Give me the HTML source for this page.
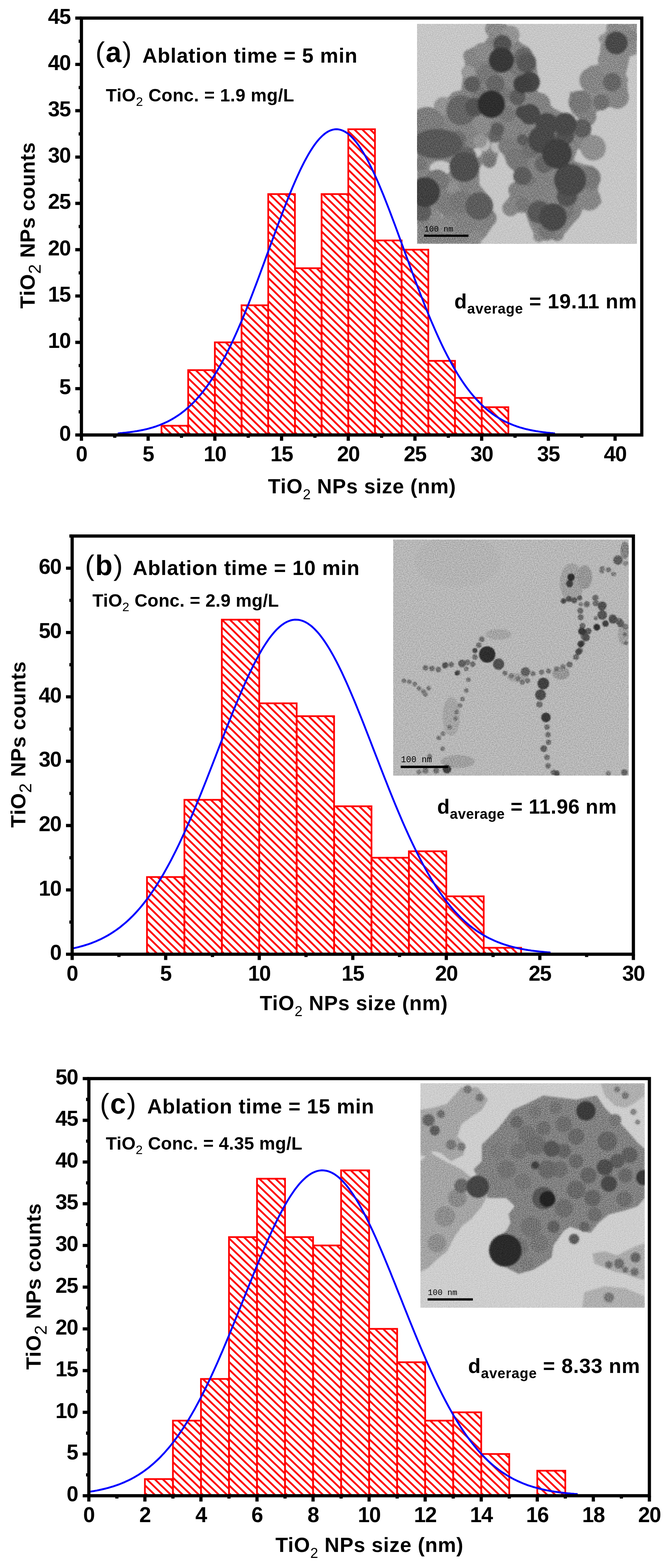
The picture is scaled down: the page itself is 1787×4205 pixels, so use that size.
<!DOCTYPE html>
<html><head><meta charset="utf-8"><title>TiO2 NPs size distribution</title>
<style>
html,body{margin:0;padding:0;background:#fff;}
body{width:1787px;height:4205px;overflow:hidden;}
svg{display:block;}
text{font-family:"Liberation Sans", Arial, sans-serif;font-weight:bold;fill:#000;}
.t{font-size:57px;letter-spacing:-1.6px;}
</style></head><body>
<svg width="1787" height="4205" viewBox="0 0 1787 4205">
<defs>
<pattern id="hatcha" patternUnits="userSpaceOnUse" width="14.784" height="40" patternTransform="translate(0,-4) rotate(-45.58)"><rect x="0" y="0" width="4.900" height="40" fill="#ff0000"/></pattern>
<pattern id="hatchb" patternUnits="userSpaceOnUse" width="14.784" height="40" patternTransform="translate(0,-4) rotate(-45.58)"><rect x="0" y="0" width="4.900" height="40" fill="#ff0000"/></pattern>
<pattern id="hatchc" patternUnits="userSpaceOnUse" width="14.933" height="40" patternTransform="translate(0,-4) rotate(-46.17)"><rect x="0" y="0" width="4.848" height="40" fill="#ff0000"/></pattern>
</defs>
<rect width="1787" height="4205" fill="#ffffff"/>
<g transform="translate(433.3,1166.5)"><rect x="0" y="-24.8" width="71.6" height="24.8" fill="url(#hatcha)" stroke="#ff0000" stroke-width="4.6"/></g>
<g transform="translate(504.9,1166.5)"><rect x="0" y="-173.9" width="71.6" height="173.9" fill="url(#hatcha)" stroke="#ff0000" stroke-width="4.6"/></g>
<g transform="translate(576.5,1166.5)"><rect x="0" y="-248.4" width="71.6" height="248.4" fill="url(#hatcha)" stroke="#ff0000" stroke-width="4.6"/></g>
<g transform="translate(648.1,1166.5)"><rect x="0" y="-347.8" width="71.6" height="347.8" fill="url(#hatcha)" stroke="#ff0000" stroke-width="4.6"/></g>
<g transform="translate(719.7,1166.5)"><rect x="0" y="-646.0" width="71.6" height="646.0" fill="url(#hatcha)" stroke="#ff0000" stroke-width="4.6"/></g>
<g transform="translate(791.3,1166.5)"><rect x="0" y="-447.2" width="71.6" height="447.2" fill="url(#hatcha)" stroke="#ff0000" stroke-width="4.6"/></g>
<g transform="translate(862.9,1166.5)"><rect x="0" y="-646.0" width="71.6" height="646.0" fill="url(#hatcha)" stroke="#ff0000" stroke-width="4.6"/></g>
<g transform="translate(934.5,1166.5)"><rect x="0" y="-819.9" width="71.6" height="819.9" fill="url(#hatcha)" stroke="#ff0000" stroke-width="4.6"/></g>
<g transform="translate(1006.0,1166.5)"><rect x="0" y="-521.7" width="71.6" height="521.7" fill="url(#hatcha)" stroke="#ff0000" stroke-width="4.6"/></g>
<g transform="translate(1077.6,1166.5)"><rect x="0" y="-496.9" width="71.6" height="496.9" fill="url(#hatcha)" stroke="#ff0000" stroke-width="4.6"/></g>
<g transform="translate(1149.2,1166.5)"><rect x="0" y="-198.8" width="71.6" height="198.8" fill="url(#hatcha)" stroke="#ff0000" stroke-width="4.6"/></g>
<g transform="translate(1220.8,1166.5)"><rect x="0" y="-99.4" width="71.6" height="99.4" fill="url(#hatcha)" stroke="#ff0000" stroke-width="4.6"/></g>
<g transform="translate(1292.4,1166.5)"><rect x="0" y="-74.5" width="71.6" height="74.5" fill="url(#hatcha)" stroke="#ff0000" stroke-width="4.6"/></g>
<polyline points="315.9,1162.2 319.8,1161.9 323.7,1161.5 327.6,1161.2 331.5,1160.8 335.4,1160.4 339.3,1160.0 343.2,1159.5 347.2,1159.1 351.1,1158.5 355.0,1158.0 358.9,1157.4 362.8,1156.8 366.7,1156.2 370.6,1155.5 374.5,1154.8 378.5,1154.0 382.4,1153.2 386.3,1152.4 390.2,1151.5 394.1,1150.6 398.0,1149.6 401.9,1148.5 405.8,1147.4 409.7,1146.3 413.7,1145.0 417.6,1143.8 421.5,1142.4 425.4,1141.0 429.3,1139.5 433.2,1137.9 437.1,1136.3 441.0,1134.6 444.9,1132.8 448.9,1130.9 452.8,1129.0 456.7,1126.9 460.6,1124.7 464.5,1122.5 468.4,1120.1 472.3,1117.7 476.2,1115.1 480.2,1112.5 484.1,1109.7 488.0,1106.8 491.9,1103.8 495.8,1100.7 499.7,1097.4 503.6,1094.0 507.5,1090.5 511.4,1086.9 515.4,1083.1 519.3,1079.2 523.2,1075.1 527.1,1070.9 531.0,1066.5 534.9,1062.0 538.8,1057.4 542.7,1052.6 546.6,1047.6 550.6,1042.5 554.5,1037.2 558.4,1031.7 562.3,1026.1 566.2,1020.3 570.1,1014.4 574.0,1008.3 577.9,1002.0 581.9,995.5 585.8,988.9 589.7,982.1 593.6,975.2 597.5,968.0 601.4,960.7 605.3,953.3 609.2,945.6 613.1,937.8 617.1,929.8 621.0,921.7 624.9,913.4 628.8,904.9 632.7,896.3 636.6,887.5 640.5,878.6 644.4,869.6 648.3,860.4 652.3,851.0 656.2,841.5 660.1,831.9 664.0,822.2 667.9,812.3 671.8,802.4 675.7,792.3 679.6,782.1 683.5,771.9 687.5,761.5 691.4,751.1 695.3,740.6 699.2,730.0 703.1,719.4 707.0,708.8 710.9,698.1 714.8,687.4 718.8,676.6 722.7,665.9 726.6,655.2 730.5,644.5 734.4,633.8 738.3,623.1 742.2,612.5 746.1,601.9 750.0,591.4 754.0,581.0 757.9,570.7 761.8,560.4 765.7,550.3 769.6,540.3 773.5,530.5 777.4,520.8 781.3,511.2 785.2,501.8 789.2,492.6 793.1,483.6 797.0,474.8 800.9,466.2 804.8,457.8 808.7,449.7 812.6,441.8 816.5,434.1 820.5,426.7 824.4,419.6 828.3,412.8 832.2,406.3 836.1,400.1 840.0,394.1 843.9,388.5 847.8,383.3 851.7,378.3 855.7,373.7 859.6,369.4 863.5,365.5 867.4,362.0 871.3,358.8 875.2,355.9 879.1,353.5 883.0,351.4 886.9,349.7 890.9,348.4 894.8,347.4 898.7,346.8 902.6,346.6 906.5,346.8 910.4,347.4 914.3,348.4 918.2,349.7 922.1,351.4 926.1,353.5 930.0,355.9 933.9,358.8 937.8,362.0 941.7,365.5 945.6,369.4 949.5,373.7 953.4,378.3 957.4,383.3 961.3,388.5 965.2,394.1 969.1,400.1 973.0,406.3 976.9,412.8 980.8,419.6 984.7,426.7 988.6,434.1 992.6,441.8 996.5,449.7 1000.4,457.8 1004.3,466.2 1008.2,474.8 1012.1,483.6 1016.0,492.6 1019.9,501.8 1023.8,511.2 1027.8,520.8 1031.7,530.5 1035.6,540.3 1039.5,550.3 1043.4,560.4 1047.3,570.7 1051.2,581.0 1055.1,591.4 1059.1,601.9 1063.0,612.5 1066.9,623.1 1070.8,633.8 1074.7,644.5 1078.6,655.2 1082.5,665.9 1086.4,676.6 1090.3,687.4 1094.3,698.1 1098.2,708.8 1102.1,719.4 1106.0,730.0 1109.9,740.6 1113.8,751.1 1117.7,761.5 1121.6,771.9 1125.5,782.1 1129.5,792.3 1133.4,802.4 1137.3,812.3 1141.2,822.2 1145.1,831.9 1149.0,841.5 1152.9,851.0 1156.8,860.4 1160.8,869.6 1164.7,878.6 1168.6,887.5 1172.5,896.3 1176.4,904.9 1180.3,913.4 1184.2,921.7 1188.1,929.8 1192.0,937.8 1196.0,945.6 1199.9,953.3 1203.8,960.7 1207.7,968.0 1211.6,975.2 1215.5,982.1 1219.4,988.9 1223.3,995.5 1227.2,1002.0 1231.2,1008.3 1235.1,1014.4 1239.0,1020.3 1242.9,1026.1 1246.8,1031.7 1250.7,1037.2 1254.6,1042.5 1258.5,1047.6 1262.4,1052.6 1266.4,1057.4 1270.3,1062.0 1274.2,1066.5 1278.1,1070.9 1282.0,1075.1 1285.9,1079.2 1289.8,1083.1 1293.7,1086.9 1297.7,1090.5 1301.6,1094.0 1305.5,1097.4 1309.4,1100.7 1313.3,1103.8 1317.2,1106.8 1321.1,1109.7 1325.0,1112.5 1328.9,1115.1 1332.9,1117.7 1336.8,1120.1 1340.7,1122.5 1344.6,1124.7 1348.5,1126.9 1352.4,1129.0 1356.3,1130.9 1360.2,1132.8 1364.1,1134.6 1368.1,1136.3 1372.0,1137.9 1375.9,1139.5 1379.8,1141.0 1383.7,1142.4 1387.6,1143.8 1391.5,1145.0 1395.4,1146.3 1399.4,1147.4 1403.3,1148.5 1407.2,1149.6 1411.1,1150.6 1415.0,1151.5 1418.9,1152.4 1422.8,1153.2 1426.7,1154.0 1430.6,1154.8 1434.6,1155.5 1438.5,1156.2 1442.4,1156.8 1446.3,1157.4 1450.2,1158.0 1454.1,1158.5 1458.0,1159.1 1461.9,1159.5 1465.8,1160.0 1469.8,1160.4 1473.7,1160.8 1477.6,1161.2 1481.5,1161.5 1485.4,1161.9 1489.3,1162.2" fill="none" stroke="#0000ff" stroke-width="5" stroke-linejoin="round"/>
<svg x="1119" y="64" width="590" height="590" viewBox="0 0 1095 1095" preserveAspectRatio="none" overflow="hidden">
<defs><filter id="bla" x="-5%" y="-5%" width="110%" height="110%"><feGaussianBlur stdDeviation="5"/></filter></defs>
<rect width="1095" height="1095" fill="#c7c7c7"/>
<g filter="url(#bla)">
<polygon points="350,0 440,0 470,30 510,90 560,120 590,170 600,250 610,300 590,350 600,380 640,380 680,420 720,440 760,470 800,480 850,500 870,560 900,560 930,600 930,660 880,670 840,640 800,620 780,680 830,700 880,710 910,750 900,830 910,860 920,890 880,920 830,910 810,960 780,990 740,1040 700,1060 650,1080 600,1070 580,1040 560,1000 540,940 500,940 450,940 430,900 460,860 480,820 500,780 480,730 450,700 430,650 410,620 390,700 360,720 330,690 310,720 310,800 350,850 370,920 380,1000 340,1060 300,1095 0,1095 0,430 60,430 100,450 100,380 150,370 180,340 220,330 230,250 240,200 230,150 270,120 330,100 360,60" fill="rgb(132,132,132)"/>
<polygon points="760,340 830,330 820,250 860,210 920,200 910,140 920,60 960,20 960,0 1095,0 1095,150 1060,160 1040,250 1050,330 1040,400 980,410 930,420 890,440 880,500 850,500 800,470 770,440 760,400" fill="rgb(138,138,138)"/>
<ellipse cx="118" cy="717" rx="55.199999999999996" ry="34.5" fill="rgb(199,199,199)"/>
<circle cx="300" cy="640" r="23.0" fill="rgb(199,199,199)"/>
<circle cx="330" cy="600" r="34.5" fill="rgb(186,186,186)"/>
<circle cx="400" cy="610" r="32.199999999999996" fill="rgb(186,186,186)"/>
<circle cx="100" cy="960" r="28.749999999999996" fill="rgb(176,176,176)"/>
<circle cx="255" cy="240" r="34.5" fill="rgb(153,153,153)"/>
<circle cx="465" cy="55" r="46.0" fill="rgb(148,148,148)"/>
<circle cx="130" cy="410" r="46.0" fill="rgb(148,148,148)"/>
<circle cx="927" cy="75" r="23.0" fill="rgb(148,148,148)"/>
<circle cx="1077" cy="10" r="23.0" fill="rgb(148,148,148)"/>
<circle cx="315" cy="582" r="34.5" fill="rgb(148,148,148)"/>
<circle cx="190" cy="822" r="40.25" fill="rgb(144,144,144)"/>
<circle cx="877" cy="617" r="63.24999999999999" fill="rgb(144,144,144)"/>
<circle cx="385" cy="25" r="46.0" fill="rgb(139,139,139)"/>
<circle cx="325" cy="140" r="46.0" fill="rgb(139,139,139)"/>
<circle cx="325" cy="500" r="46.0" fill="rgb(139,139,139)"/>
<circle cx="1022" cy="280" r="28.749999999999996" fill="rgb(139,139,139)"/>
<circle cx="952" cy="180" r="51.74999999999999" fill="rgb(139,139,139)"/>
<circle cx="1067" cy="130" r="28.749999999999996" fill="rgb(139,139,139)"/>
<circle cx="977" cy="20" r="34.5" fill="rgb(139,139,139)"/>
<circle cx="290" cy="1067" r="34.5" fill="rgb(139,139,139)"/>
<circle cx="150" cy="1012" r="40.25" fill="rgb(139,139,139)"/>
<circle cx="85" cy="972" r="40.25" fill="rgb(139,139,139)"/>
<circle cx="607" cy="1057" r="28.749999999999996" fill="rgb(139,139,139)"/>
<circle cx="265" cy="160" r="34.5" fill="rgb(134,134,134)"/>
<circle cx="872" cy="280" r="63.24999999999999" fill="rgb(134,134,134)"/>
<circle cx="997" cy="365" r="57.49999999999999" fill="rgb(134,134,134)"/>
<circle cx="1067" cy="65" r="34.5" fill="rgb(134,134,134)"/>
<circle cx="465" cy="917" r="40.25" fill="rgb(134,134,134)"/>
<circle cx="857" cy="872" r="57.49999999999999" fill="rgb(134,134,134)"/>
<circle cx="525" cy="525" r="34.5" fill="rgb(130,130,130)"/>
<circle cx="577" cy="360" r="34.5" fill="rgb(130,130,130)"/>
<circle cx="607" cy="400" r="57.49999999999999" fill="rgb(130,130,130)"/>
<circle cx="847" cy="460" r="46.0" fill="rgb(130,130,130)"/>
<circle cx="30" cy="977" r="34.5" fill="rgb(130,130,130)"/>
<circle cx="240" cy="987" r="57.49999999999999" fill="rgb(130,130,130)"/>
<circle cx="350" cy="967" r="46.0" fill="rgb(130,130,130)"/>
<circle cx="240" cy="797" r="34.5" fill="rgb(130,130,130)"/>
<circle cx="495" cy="827" r="40.25" fill="rgb(130,130,130)"/>
<circle cx="562" cy="707" r="28.749999999999996" fill="rgb(130,130,130)"/>
<circle cx="632" cy="787" r="46.0" fill="rgb(130,130,130)"/>
<circle cx="597" cy="867" r="51.74999999999999" fill="rgb(130,130,130)"/>
<circle cx="697" cy="1047" r="34.5" fill="rgb(130,130,130)"/>
<circle cx="50" cy="500" r="86.25" fill="rgb(125,125,125)"/>
<circle cx="0" cy="520" r="92.0" fill="rgb(125,125,125)"/>
<circle cx="150" cy="897" r="57.49999999999999" fill="rgb(125,125,125)"/>
<circle cx="450" cy="607" r="46.0" fill="rgb(125,125,125)"/>
<circle cx="350" cy="250" r="51.74999999999999" fill="rgb(120,120,120)"/>
<circle cx="500" cy="215" r="46.0" fill="rgb(120,120,120)"/>
<circle cx="450" cy="450" r="40.25" fill="rgb(120,120,120)"/>
<circle cx="440" cy="350" r="34.5" fill="rgb(120,120,120)"/>
<circle cx="310" cy="350" r="40.25" fill="rgb(120,120,120)"/>
<circle cx="812" cy="390" r="57.49999999999999" fill="rgb(120,120,120)"/>
<circle cx="15" cy="697" r="34.5" fill="rgb(120,120,120)"/>
<circle cx="360" cy="682" r="34.5" fill="rgb(120,120,120)"/>
<circle cx="100" cy="782" r="57.49999999999999" fill="rgb(120,120,120)"/>
<circle cx="220" cy="887" r="57.49999999999999" fill="rgb(120,120,120)"/>
<circle cx="500" cy="672" r="57.49999999999999" fill="rgb(120,120,120)"/>
<circle cx="525" cy="897" r="34.5" fill="rgb(120,120,120)"/>
<circle cx="557" cy="777" r="34.5" fill="rgb(120,120,120)"/>
<circle cx="857" cy="767" r="57.49999999999999" fill="rgb(120,120,120)"/>
<circle cx="737" cy="927" r="46.0" fill="rgb(120,120,120)"/>
<circle cx="647" cy="1027" r="46.0" fill="rgb(120,120,120)"/>
<circle cx="917" cy="390" r="40.25" fill="rgb(111,111,111)"/>
<circle cx="200" cy="577" r="46.0" fill="rgb(111,111,111)"/>
<circle cx="567" cy="622" r="46.0" fill="rgb(111,111,111)"/>
<circle cx="530" cy="165" r="46.0" fill="rgb(102,102,102)"/>
<circle cx="390" cy="300" r="46.0" fill="rgb(102,102,102)"/>
<circle cx="220" cy="430" r="74.75" fill="rgb(102,102,102)"/>
<circle cx="972" cy="290" r="46.0" fill="rgb(102,102,102)"/>
<circle cx="240" cy="667" r="57.49999999999999" fill="rgb(102,102,102)"/>
<circle cx="390" cy="557" r="34.5" fill="rgb(102,102,102)"/>
<circle cx="632" cy="697" r="46.0" fill="rgb(102,102,102)"/>
<circle cx="275" cy="300" r="40.25" fill="rgb(93,93,93)"/>
<circle cx="400" cy="525" r="34.5" fill="rgb(93,93,93)"/>
<circle cx="500" cy="365" r="40.25" fill="rgb(93,93,93)"/>
<circle cx="822" cy="520" r="46.0" fill="rgb(93,93,93)"/>
<circle cx="25" cy="937" r="46.0" fill="rgb(93,93,93)"/>
<circle cx="310" cy="907" r="69.0" fill="rgb(93,93,93)"/>
<circle cx="525" cy="757" r="46.0" fill="rgb(93,93,93)"/>
<circle cx="525" cy="577" r="28.749999999999996" fill="rgb(93,93,93)"/>
<circle cx="545" cy="195" r="48.3" fill="rgb(88,88,88)"/>
<ellipse cx="100" cy="597" rx="126.49999999999999" ry="74.75" fill="rgb(88,88,88)"/>
<circle cx="607" cy="937" r="57.49999999999999" fill="rgb(88,88,88)"/>
<circle cx="425" cy="100" r="46.0" fill="rgb(83,83,83)"/>
<circle cx="285" cy="415" r="46.0" fill="rgb(83,83,83)"/>
<circle cx="737" cy="557" r="46.0" fill="rgb(83,83,83)"/>
<circle cx="747" cy="857" r="51.74999999999999" fill="rgb(83,83,83)"/>
<circle cx="235" cy="712" r="74.75" fill="rgb(79,79,79)"/>
<circle cx="525" cy="440" r="34.5" fill="rgb(74,74,74)"/>
<circle cx="562" cy="450" r="51.74999999999999" fill="rgb(74,74,74)"/>
<circle cx="647" cy="500" r="57.49999999999999" fill="rgb(74,74,74)"/>
<circle cx="737" cy="500" r="57.49999999999999" fill="rgb(74,74,74)"/>
<circle cx="992" cy="95" r="57.49999999999999" fill="rgb(74,74,74)"/>
<circle cx="622" cy="577" r="69.0" fill="rgb(74,74,74)"/>
<circle cx="762" cy="777" r="80.5" fill="rgb(74,74,74)"/>
<circle cx="677" cy="962" r="69.0" fill="rgb(74,74,74)"/>
<circle cx="560" cy="290" r="51.74999999999999" fill="rgb(69,69,69)"/>
<circle cx="525" cy="300" r="46.0" fill="rgb(65,65,65)"/>
<circle cx="40" cy="837" r="74.75" fill="rgb(65,65,65)"/>
<circle cx="697" cy="647" r="74.75" fill="rgb(65,65,65)"/>
<circle cx="420" cy="180" r="63.24999999999999" fill="rgb(55,55,55)"/>
<circle cx="370" cy="400" r="69.0" fill="rgb(46,46,46)"/>
</g>
<filter id="nza" x="0" y="0" width="100%" height="100%" color-interpolation-filters="sRGB"><feTurbulence type="fractalNoise" baseFrequency="0.2" numOctaves="2" seed="97"/><feColorMatrix type="matrix" values="0.33 0.33 0.33 0 0 0.33 0.33 0.33 0 0 0.33 0.33 0.33 0 0 0 0 0 0 1"/><feComponentTransfer><feFuncR type="linear" slope="2.0" intercept="-0.5"/><feFuncG type="linear" slope="2.0" intercept="-0.5"/><feFuncB type="linear" slope="2.0" intercept="-0.5"/></feComponentTransfer></filter>
<rect width="1095" height="1095" filter="url(#nza)" style="mix-blend-mode:overlay" opacity="0.45"/>

<rect x="35" y="1049" width="221" height="11" fill="#000"/>
<text x="36" y="1033" style="font-family:'Liberation Mono',monospace;font-weight:normal;font-size:40px" fill="#111">100 nm</text>
</svg>
<rect x="218.5" y="48.5" width="1503.5" height="1118.0" fill="none" stroke="#000" stroke-width="8.6"/>
<path d="M218.5,1166.5V1182.0M308.0,1166.5V1174.0M397.5,1166.5V1182.0M487.0,1166.5V1174.0M576.5,1166.5V1182.0M666.0,1166.5V1174.0M755.5,1166.5V1182.0M845.0,1166.5V1174.0M934.5,1166.5V1182.0M1023.9,1166.5V1174.0M1113.4,1166.5V1182.0M1202.9,1166.5V1174.0M1292.4,1166.5V1182.0M1381.9,1166.5V1174.0M1471.4,1166.5V1182.0M1560.9,1166.5V1174.0M1650.4,1166.5V1182.0M218.5,1166.5H202.0M218.5,1104.4H211.0M218.5,1042.3H202.0M218.5,980.2H211.0M218.5,918.1H202.0M218.5,855.9H211.0M218.5,793.8H202.0M218.5,731.7H211.0M218.5,669.6H202.0M218.5,607.5H211.0M218.5,545.4H202.0M218.5,483.3H211.0M218.5,421.2H202.0M218.5,359.1H211.0M218.5,296.9H202.0M218.5,234.8H211.0M218.5,172.7H202.0M218.5,110.6H211.0M218.5,48.5H202.0" stroke="#000" stroke-width="8.6" fill="none"/>
<text x="218.5" y="1237.0" text-anchor="middle" class="t">0</text>
<text x="397.5" y="1237.0" text-anchor="middle" class="t">5</text>
<text x="576.5" y="1237.0" text-anchor="middle" class="t">10</text>
<text x="755.5" y="1237.0" text-anchor="middle" class="t">15</text>
<text x="934.5" y="1237.0" text-anchor="middle" class="t">20</text>
<text x="1113.4" y="1237.0" text-anchor="middle" class="t">25</text>
<text x="1292.4" y="1237.0" text-anchor="middle" class="t">30</text>
<text x="1471.4" y="1237.0" text-anchor="middle" class="t">35</text>
<text x="1650.4" y="1237.0" text-anchor="middle" class="t">40</text>
<text x="189.0" y="1181.5" text-anchor="end" class="t">0</text>
<text x="189.0" y="1057.3" text-anchor="end" class="t">5</text>
<text x="189.0" y="933.1" text-anchor="end" class="t">10</text>
<text x="189.0" y="808.8" text-anchor="end" class="t">15</text>
<text x="189.0" y="684.6" text-anchor="end" class="t">20</text>
<text x="189.0" y="560.4" text-anchor="end" class="t">25</text>
<text x="189.0" y="436.2" text-anchor="end" class="t">30</text>
<text x="189.0" y="311.9" text-anchor="end" class="t">35</text>
<text x="189.0" y="187.7" text-anchor="end" class="t">40</text>
<text x="189.0" y="63.5" text-anchor="end" class="t">45</text>
<g transform="translate(394.4,2559.0)"><rect x="0" y="-207.0" width="100.4" height="207.0" fill="url(#hatchb)" stroke="#ff0000" stroke-width="4.6"/></g>
<g transform="translate(494.8,2559.0)"><rect x="0" y="-414.1" width="100.4" height="414.1" fill="url(#hatchb)" stroke="#ff0000" stroke-width="4.6"/></g>
<g transform="translate(595.2,2559.0)"><rect x="0" y="-897.2" width="100.4" height="897.2" fill="url(#hatchb)" stroke="#ff0000" stroke-width="4.6"/></g>
<g transform="translate(695.6,2559.0)"><rect x="0" y="-672.9" width="100.4" height="672.9" fill="url(#hatchb)" stroke="#ff0000" stroke-width="4.6"/></g>
<g transform="translate(796.0,2559.0)"><rect x="0" y="-638.4" width="100.4" height="638.4" fill="url(#hatchb)" stroke="#ff0000" stroke-width="4.6"/></g>
<g transform="translate(896.4,2559.0)"><rect x="0" y="-396.8" width="100.4" height="396.8" fill="url(#hatchb)" stroke="#ff0000" stroke-width="4.6"/></g>
<g transform="translate(996.7,2559.0)"><rect x="0" y="-258.8" width="100.4" height="258.8" fill="url(#hatchb)" stroke="#ff0000" stroke-width="4.6"/></g>
<g transform="translate(1097.1,2559.0)"><rect x="0" y="-276.1" width="100.4" height="276.1" fill="url(#hatchb)" stroke="#ff0000" stroke-width="4.6"/></g>
<g transform="translate(1197.5,2559.0)"><rect x="0" y="-155.3" width="100.4" height="155.3" fill="url(#hatchb)" stroke="#ff0000" stroke-width="4.6"/></g>
<g transform="translate(1297.9,2559.0)"><rect x="0" y="-17.3" width="100.4" height="17.3" fill="url(#hatchb)" stroke="#ff0000" stroke-width="4.6"/></g>
<polyline points="193.6,2543.7 197.9,2542.8 202.2,2541.9 206.4,2540.9 210.7,2539.8 215.0,2538.7 219.3,2537.5 223.5,2536.3 227.8,2535.0 232.1,2533.7 236.4,2532.3 240.7,2530.8 244.9,2529.3 249.2,2527.6 253.5,2526.0 257.8,2524.2 262.1,2522.3 266.3,2520.4 270.6,2518.4 274.9,2516.3 279.2,2514.1 283.4,2511.8 287.7,2509.5 292.0,2507.0 296.3,2504.4 300.6,2501.7 304.8,2498.9 309.1,2496.0 313.4,2493.0 317.7,2489.9 322.0,2486.7 326.2,2483.3 330.5,2479.8 334.8,2476.2 339.1,2472.5 343.3,2468.6 347.6,2464.6 351.9,2460.4 356.2,2456.2 360.5,2451.7 364.7,2447.2 369.0,2442.5 373.3,2437.6 377.6,2432.6 381.9,2427.4 386.1,2422.1 390.4,2416.6 394.7,2411.0 399.0,2405.2 403.2,2399.2 407.5,2393.1 411.8,2386.8 416.1,2380.4 420.4,2373.8 424.6,2367.0 428.9,2360.0 433.2,2352.9 437.5,2345.7 441.7,2338.2 446.0,2330.6 450.3,2322.8 454.6,2314.9 458.9,2306.8 463.1,2298.6 467.4,2290.2 471.7,2281.6 476.0,2272.9 480.3,2264.0 484.5,2255.0 488.8,2245.8 493.1,2236.5 497.4,2227.0 501.6,2217.4 505.9,2207.7 510.2,2197.9 514.5,2187.9 518.8,2177.8 523.0,2167.6 527.3,2157.3 531.6,2146.9 535.9,2136.4 540.2,2125.8 544.4,2115.1 548.7,2104.4 553.0,2093.6 557.3,2082.7 561.5,2071.8 565.8,2060.8 570.1,2049.8 574.4,2038.7 578.7,2027.7 582.9,2016.6 587.2,2005.5 591.5,1994.5 595.8,1983.4 600.1,1972.4 604.3,1961.4 608.6,1950.5 612.9,1939.6 617.2,1928.8 621.4,1918.1 625.7,1907.4 630.0,1896.9 634.3,1886.4 638.6,1876.1 642.8,1865.9 647.1,1855.9 651.4,1845.9 655.7,1836.2 659.9,1826.6 664.2,1817.2 668.5,1808.0 672.8,1799.0 677.1,1790.2 681.3,1781.6 685.6,1773.3 689.9,1765.1 694.2,1757.3 698.5,1749.7 702.7,1742.3 707.0,1735.3 711.3,1728.5 715.6,1722.0 719.8,1715.8 724.1,1709.9 728.4,1704.3 732.7,1699.1 737.0,1694.1 741.2,1689.5 745.5,1685.3 749.8,1681.4 754.1,1677.8 758.4,1674.6 762.6,1671.7 766.9,1669.2 771.2,1667.0 775.5,1665.3 779.7,1663.8 784.0,1662.8 788.3,1662.1 792.6,1661.8 796.9,1661.9 801.1,1662.3 805.4,1663.1 809.7,1664.3 814.0,1665.9 818.3,1667.8 822.5,1670.0 826.8,1672.7 831.1,1675.7 835.4,1679.0 839.6,1682.7 843.9,1686.8 848.2,1691.2 852.5,1695.9 856.8,1700.9 861.0,1706.3 865.3,1712.0 869.6,1718.0 873.9,1724.3 878.1,1730.9 882.4,1737.8 886.7,1744.9 891.0,1752.4 895.3,1760.1 899.5,1768.0 903.8,1776.2 908.1,1784.7 912.4,1793.3 916.7,1802.2 920.9,1811.3 925.2,1820.6 929.5,1830.0 933.8,1839.7 938.0,1849.5 942.3,1859.4 946.6,1869.6 950.9,1879.8 955.2,1890.2 959.4,1900.6 963.7,1911.2 968.0,1921.9 972.3,1932.7 976.6,1943.5 980.8,1954.4 985.1,1965.4 989.4,1976.4 993.7,1987.4 997.9,1998.4 1002.2,2009.5 1006.5,2020.6 1010.8,2031.6 1015.1,2042.7 1019.3,2053.7 1023.6,2064.7 1027.9,2075.7 1032.2,2086.6 1036.5,2097.4 1040.7,2108.2 1045.0,2119.0 1049.3,2129.6 1053.6,2140.2 1057.8,2150.6 1062.1,2161.0 1066.4,2171.3 1070.7,2181.4 1075.0,2191.5 1079.2,2201.4 1083.5,2211.2 1087.8,2220.9 1092.1,2230.4 1096.3,2239.8 1100.6,2249.1 1104.9,2258.2 1109.2,2267.2 1113.5,2276.0 1117.7,2284.7 1122.0,2293.2 1126.3,2301.5 1130.6,2309.7 1134.9,2317.8 1139.1,2325.7 1143.4,2333.4 1147.7,2340.9 1152.0,2348.3 1156.2,2355.5 1160.5,2362.5 1164.8,2369.4 1169.1,2376.1 1173.4,2382.7 1177.6,2389.1 1181.9,2395.3 1186.2,2401.4 1190.5,2407.3 1194.8,2413.0 1199.0,2418.6 1203.3,2424.0 1207.6,2429.3 1211.9,2434.4 1216.1,2439.4 1220.4,2444.2 1224.7,2448.8 1229.0,2453.3 1233.3,2457.7 1237.5,2462.0 1241.8,2466.0 1246.1,2470.0 1250.4,2473.8 1254.7,2477.5 1258.9,2481.1 1263.2,2484.5 1267.5,2487.9 1271.8,2491.1 1276.0,2494.1 1280.3,2497.1 1284.6,2500.0 1288.9,2502.7 1293.2,2505.3 1297.4,2507.9 1301.7,2510.3 1306.0,2512.7 1310.3,2514.9 1314.5,2517.1 1318.8,2519.1 1323.1,2521.1 1327.4,2523.0 1331.7,2524.8 1335.9,2526.6 1340.2,2528.2 1344.5,2529.8 1348.8,2531.3 1353.1,2532.8 1357.3,2534.2 1361.6,2535.5 1365.9,2536.8 1370.2,2538.0 1374.4,2539.1 1378.7,2540.2 1383.0,2541.2 1387.3,2542.2 1391.6,2543.2 1395.8,2544.1 1400.1,2544.9 1404.4,2545.7 1408.7,2546.5 1413.0,2547.2 1417.2,2547.9 1421.5,2548.5 1425.8,2549.2 1430.1,2549.7 1434.3,2550.3 1438.6,2550.8 1442.9,2551.3 1447.2,2551.8 1451.5,2552.2 1455.7,2552.6 1460.0,2553.0 1464.3,2553.4 1468.6,2553.8 1472.9,2554.1 1477.1,2554.4" fill="none" stroke="#0000ff" stroke-width="5" stroke-linejoin="round"/>
<svg x="1055" y="1447" width="632" height="633" viewBox="0 0 1095 1095" preserveAspectRatio="none" overflow="hidden">
<defs><filter id="blb" x="-5%" y="-5%" width="110%" height="110%"><feGaussianBlur stdDeviation="3"/></filter></defs>
<rect width="1095" height="1095" fill="#b8b8b8"/>
<g filter="url(#blb)">

<ellipse cx="300" cy="100" rx="200" ry="120" fill="rgb(180,180,180)"/>
<ellipse cx="490" cy="440" rx="60" ry="25" fill="rgb(165,165,165)"/>
<ellipse cx="270" cy="820" rx="40" ry="90" fill="rgb(165,165,165)"/>
<ellipse cx="830" cy="200" rx="55" ry="90" fill="rgb(160,160,160)"/>
<ellipse cx="580" cy="640" rx="50" ry="20" fill="rgb(160,160,160)"/>
<ellipse cx="300" cy="1030" rx="80" ry="30" fill="rgb(160,160,160)"/>
<ellipse cx="1070" cy="440" rx="25" ry="50" fill="rgb(160,160,160)"/>
<ellipse cx="890" cy="175" rx="35" ry="55" fill="rgb(150,150,150)"/>
<ellipse cx="780" cy="620" rx="40" ry="30" fill="rgb(150,150,150)"/>
<ellipse cx="1077" cy="50" rx="20" ry="40" fill="rgb(130,130,130)"/>
<circle cx="1075" cy="40" r="15" fill="rgb(130,130,130)"/>
<circle cx="1080" cy="110" r="12" fill="rgb(130,130,130)"/>
<circle cx="1027" cy="160" r="10" fill="rgb(125,125,125)"/>
<circle cx="1022" cy="160" r="10" fill="rgb(125,125,125)"/>
<circle cx="120" cy="1078" r="12" fill="rgb(125,125,125)"/>
<circle cx="50" cy="655" r="11" fill="rgb(120,120,120)"/>
<circle cx="75" cy="660" r="11" fill="rgb(120,120,120)"/>
<circle cx="100" cy="670" r="11" fill="rgb(120,120,120)"/>
<circle cx="120" cy="690" r="11" fill="rgb(120,120,120)"/>
<circle cx="140" cy="705" r="11" fill="rgb(120,120,120)"/>
<circle cx="150" cy="718" r="11" fill="rgb(120,120,120)"/>
<circle cx="165" cy="690" r="11" fill="rgb(120,120,120)"/>
<circle cx="1080" cy="405" r="14" fill="rgb(120,120,120)"/>
<circle cx="872" cy="300" r="10" fill="rgb(120,120,120)"/>
<circle cx="867" cy="327" r="10" fill="rgb(120,120,120)"/>
<circle cx="942" cy="365" r="10" fill="rgb(120,120,120)"/>
<circle cx="872" cy="365" r="10" fill="rgb(120,120,120)"/>
<circle cx="972" cy="135" r="12" fill="rgb(120,120,120)"/>
<circle cx="1002" cy="140" r="12" fill="rgb(120,120,120)"/>
<circle cx="970" cy="145" r="12" fill="rgb(120,120,120)"/>
<circle cx="1000" cy="140" r="12" fill="rgb(120,120,120)"/>
<circle cx="340" cy="600" r="11" fill="rgb(120,120,120)"/>
<circle cx="350" cy="650" r="11" fill="rgb(120,120,120)"/>
<circle cx="340" cy="700" r="11" fill="rgb(120,120,120)"/>
<circle cx="322" cy="740" r="11" fill="rgb(120,120,120)"/>
<circle cx="310" cy="770" r="11" fill="rgb(120,120,120)"/>
<circle cx="295" cy="800" r="11" fill="rgb(120,120,120)"/>
<circle cx="290" cy="830" r="11" fill="rgb(120,120,120)"/>
<circle cx="262" cy="870" r="11" fill="rgb(120,120,120)"/>
<circle cx="232" cy="900" r="11" fill="rgb(120,120,120)"/>
<circle cx="212" cy="920" r="11" fill="rgb(120,120,120)"/>
<circle cx="230" cy="970" r="11" fill="rgb(120,120,120)"/>
<circle cx="170" cy="1005" r="11" fill="rgb(120,120,120)"/>
<circle cx="1000" cy="1085" r="12" fill="rgb(120,120,120)"/>
<circle cx="520" cy="620" r="12" fill="rgb(115,115,115)"/>
<circle cx="550" cy="632" r="12" fill="rgb(115,115,115)"/>
<circle cx="580" cy="645" r="12" fill="rgb(115,115,115)"/>
<circle cx="600" cy="662" r="12" fill="rgb(115,115,115)"/>
<circle cx="625" cy="655" r="12" fill="rgb(115,115,115)"/>
<circle cx="650" cy="622" r="12" fill="rgb(115,115,115)"/>
<circle cx="690" cy="615" r="12" fill="rgb(115,115,115)"/>
<circle cx="722" cy="610" r="12" fill="rgb(115,115,115)"/>
<circle cx="760" cy="600" r="12" fill="rgb(115,115,115)"/>
<circle cx="790" cy="590" r="12" fill="rgb(115,115,115)"/>
<circle cx="150" cy="1072" r="14" fill="rgb(115,115,115)"/>
<circle cx="150" cy="595" r="13" fill="rgb(110,110,110)"/>
<circle cx="180" cy="598" r="13" fill="rgb(110,110,110)"/>
<circle cx="210" cy="603" r="13" fill="rgb(110,110,110)"/>
<circle cx="240" cy="585" r="13" fill="rgb(110,110,110)"/>
<circle cx="270" cy="580" r="13" fill="rgb(110,110,110)"/>
<circle cx="300" cy="618" r="13" fill="rgb(110,110,110)"/>
<circle cx="322" cy="575" r="13" fill="rgb(110,110,110)"/>
<circle cx="345" cy="570" r="13" fill="rgb(110,110,110)"/>
<circle cx="370" cy="578" r="13" fill="rgb(110,110,110)"/>
<circle cx="380" cy="545" r="13" fill="rgb(110,110,110)"/>
<circle cx="398" cy="490" r="13" fill="rgb(110,110,110)"/>
<circle cx="412" cy="462" r="13" fill="rgb(110,110,110)"/>
<circle cx="680" cy="765" r="15" fill="rgb(110,110,110)"/>
<circle cx="715" cy="870" r="13" fill="rgb(110,110,110)"/>
<circle cx="720" cy="905" r="13" fill="rgb(110,110,110)"/>
<circle cx="722" cy="940" r="13" fill="rgb(110,110,110)"/>
<circle cx="700" cy="970" r="13" fill="rgb(110,110,110)"/>
<circle cx="715" cy="1010" r="13" fill="rgb(110,110,110)"/>
<circle cx="720" cy="1050" r="13" fill="rgb(110,110,110)"/>
<circle cx="745" cy="1080" r="13" fill="rgb(110,110,110)"/>
<circle cx="1050" cy="380" r="17" fill="rgb(110,110,110)"/>
<circle cx="942" cy="295" r="15" fill="rgb(110,110,110)"/>
<circle cx="1082" cy="480" r="10" fill="rgb(110,110,110)"/>
<circle cx="1077" cy="440" r="10" fill="rgb(110,110,110)"/>
<circle cx="200" cy="1072" r="14" fill="rgb(110,110,110)"/>
<circle cx="820" cy="580" r="14" fill="rgb(105,105,105)"/>
<circle cx="850" cy="545" r="14" fill="rgb(105,105,105)"/>
<circle cx="868" cy="515" r="14" fill="rgb(105,105,105)"/>
<circle cx="878" cy="480" r="14" fill="rgb(105,105,105)"/>
<circle cx="885" cy="450" r="14" fill="rgb(105,105,105)"/>
<circle cx="880" cy="400" r="14" fill="rgb(105,105,105)"/>
<circle cx="872" cy="360" r="14" fill="rgb(105,105,105)"/>
<circle cx="870" cy="330" r="14" fill="rgb(105,105,105)"/>
<circle cx="900" cy="300" r="14" fill="rgb(105,105,105)"/>
<circle cx="940" cy="270" r="14" fill="rgb(105,105,105)"/>
<circle cx="1020" cy="365" r="18" fill="rgb(100,100,100)"/>
<circle cx="1075" cy="1080" r="15" fill="rgb(100,100,100)"/>
<circle cx="320" cy="575" r="18" fill="rgb(95,95,95)"/>
<circle cx="615" cy="613" r="21" fill="rgb(95,95,95)"/>
<circle cx="700" cy="970" r="16" fill="rgb(95,95,95)"/>
<circle cx="970" cy="310" r="19" fill="rgb(95,95,95)"/>
<circle cx="1045" cy="95" r="22" fill="rgb(95,95,95)"/>
<circle cx="867" cy="270" r="12" fill="rgb(90,90,90)"/>
<circle cx="1057" cy="390" r="17" fill="rgb(90,90,90)"/>
<circle cx="907" cy="425" r="15" fill="rgb(90,90,90)"/>
<circle cx="970" cy="350" r="20" fill="rgb(85,85,85)"/>
<circle cx="842" cy="282" r="14" fill="rgb(85,85,85)"/>
<circle cx="972" cy="350" r="22" fill="rgb(85,85,85)"/>
<circle cx="242" cy="583" r="14" fill="rgb(80,80,80)"/>
<circle cx="490" cy="578" r="26" fill="rgb(80,80,80)"/>
<circle cx="817" cy="275" r="14" fill="rgb(80,80,80)"/>
<circle cx="972" cy="307" r="20" fill="rgb(80,80,80)"/>
<circle cx="1022" cy="370" r="20" fill="rgb(80,80,80)"/>
<circle cx="897" cy="455" r="17" fill="rgb(80,80,80)"/>
<circle cx="760" cy="1085" r="14" fill="rgb(80,80,80)"/>
<circle cx="685" cy="720" r="25" fill="rgb(75,75,75)"/>
<circle cx="945" cy="405" r="14" fill="rgb(75,75,75)"/>
<circle cx="792" cy="285" r="13" fill="rgb(75,75,75)"/>
<circle cx="380" cy="515" r="12" fill="rgb(70,70,70)"/>
<circle cx="885" cy="430" r="16" fill="rgb(70,70,70)"/>
<circle cx="862" cy="520" r="15" fill="rgb(70,70,70)"/>
<circle cx="698" cy="668" r="27" fill="rgb(65,65,65)"/>
<circle cx="296" cy="620" r="10" fill="rgb(60,60,60)"/>
<circle cx="820" cy="205" r="17" fill="rgb(60,60,60)"/>
<circle cx="987" cy="390" r="15" fill="rgb(60,60,60)"/>
<circle cx="250" cy="1065" r="20" fill="rgb(60,60,60)"/>
<circle cx="710" cy="825" r="22" fill="rgb(55,55,55)"/>
<circle cx="877" cy="425" r="17" fill="rgb(55,55,55)"/>
<circle cx="872" cy="485" r="15" fill="rgb(55,55,55)"/>
<circle cx="437" cy="533" r="38" fill="rgb(45,45,45)"/>
<circle cx="827" cy="175" r="18" fill="rgb(45,45,45)"/>
<circle cx="947" cy="407" r="15" fill="rgb(45,45,45)"/>
</g>
<filter id="nzb" x="0" y="0" width="100%" height="100%" color-interpolation-filters="sRGB"><feTurbulence type="fractalNoise" baseFrequency="0.2" numOctaves="2" seed="98"/><feColorMatrix type="matrix" values="0.33 0.33 0.33 0 0 0.33 0.33 0.33 0 0 0.33 0.33 0.33 0 0 0 0 0 0 1"/><feComponentTransfer><feFuncR type="linear" slope="2.0" intercept="-0.5"/><feFuncG type="linear" slope="2.0" intercept="-0.5"/><feFuncB type="linear" slope="2.0" intercept="-0.5"/></feComponentTransfer></filter>
<rect width="1095" height="1095" filter="url(#nzb)" style="mix-blend-mode:overlay" opacity="0.45"/>

<rect x="35" y="1049" width="221" height="11" fill="#000"/>
<text x="36" y="1033" style="font-family:'Liberation Mono',monospace;font-weight:normal;font-size:40px" fill="#111">100 nm</text>
</svg>
<rect x="193.6" y="1437.5" width="1505.9" height="1121.5" fill="none" stroke="#000" stroke-width="8.6"/>
<path d="M193.6,2559.0V2574.5M319.1,2559.0V2566.5M444.6,2559.0V2574.5M570.1,2559.0V2566.5M695.6,2559.0V2574.5M821.1,2559.0V2566.5M946.6,2559.0V2574.5M1072.0,2559.0V2566.5M1197.5,2559.0V2574.5M1323.0,2559.0V2566.5M1448.5,2559.0V2574.5M1574.0,2559.0V2566.5M1699.5,2559.0V2574.5M193.6,2559.0H177.1M193.6,2472.7H186.1M193.6,2386.5H177.1M193.6,2300.2H186.1M193.6,2213.9H177.1M193.6,2127.7H186.1M193.6,2041.4H177.1M193.6,1955.1H186.1M193.6,1868.8H177.1M193.6,1782.6H186.1M193.6,1696.3H177.1M193.6,1610.0H186.1M193.6,1523.8H177.1M193.6,1437.5H186.1" stroke="#000" stroke-width="8.6" fill="none"/>
<text x="193.6" y="2629.5" text-anchor="middle" class="t">0</text>
<text x="444.6" y="2629.5" text-anchor="middle" class="t">5</text>
<text x="695.6" y="2629.5" text-anchor="middle" class="t">10</text>
<text x="946.6" y="2629.5" text-anchor="middle" class="t">15</text>
<text x="1197.5" y="2629.5" text-anchor="middle" class="t">20</text>
<text x="1448.5" y="2629.5" text-anchor="middle" class="t">25</text>
<text x="1699.5" y="2629.5" text-anchor="middle" class="t">30</text>
<text x="164.1" y="2574.0" text-anchor="end" class="t">0</text>
<text x="164.1" y="2401.5" text-anchor="end" class="t">10</text>
<text x="164.1" y="2228.9" text-anchor="end" class="t">20</text>
<text x="164.1" y="2056.4" text-anchor="end" class="t">30</text>
<text x="164.1" y="1883.8" text-anchor="end" class="t">40</text>
<text x="164.1" y="1711.3" text-anchor="end" class="t">50</text>
<text x="164.1" y="1538.8" text-anchor="end" class="t">60</text>
<g transform="translate(388.8,4011.2)"><rect x="0" y="-44.7" width="75.2" height="44.7" fill="url(#hatchc)" stroke="#ff0000" stroke-width="4.6"/></g>
<g transform="translate(464.0,4011.2)"><rect x="0" y="-201.4" width="75.2" height="201.4" fill="url(#hatchc)" stroke="#ff0000" stroke-width="4.6"/></g>
<g transform="translate(539.2,4011.2)"><rect x="0" y="-313.2" width="75.2" height="313.2" fill="url(#hatchc)" stroke="#ff0000" stroke-width="4.6"/></g>
<g transform="translate(614.4,4011.2)"><rect x="0" y="-693.6" width="75.2" height="693.6" fill="url(#hatchc)" stroke="#ff0000" stroke-width="4.6"/></g>
<g transform="translate(689.6,4011.2)"><rect x="0" y="-850.2" width="75.2" height="850.2" fill="url(#hatchc)" stroke="#ff0000" stroke-width="4.6"/></g>
<g transform="translate(764.8,4011.2)"><rect x="0" y="-693.6" width="75.2" height="693.6" fill="url(#hatchc)" stroke="#ff0000" stroke-width="4.6"/></g>
<g transform="translate(840.0,4011.2)"><rect x="0" y="-671.2" width="75.2" height="671.2" fill="url(#hatchc)" stroke="#ff0000" stroke-width="4.6"/></g>
<g transform="translate(915.2,4011.2)"><rect x="0" y="-872.6" width="75.2" height="872.6" fill="url(#hatchc)" stroke="#ff0000" stroke-width="4.6"/></g>
<g transform="translate(990.4,4011.2)"><rect x="0" y="-447.5" width="75.2" height="447.5" fill="url(#hatchc)" stroke="#ff0000" stroke-width="4.6"/></g>
<g transform="translate(1065.6,4011.2)"><rect x="0" y="-358.0" width="75.2" height="358.0" fill="url(#hatchc)" stroke="#ff0000" stroke-width="4.6"/></g>
<g transform="translate(1140.8,4011.2)"><rect x="0" y="-201.4" width="75.2" height="201.4" fill="url(#hatchc)" stroke="#ff0000" stroke-width="4.6"/></g>
<g transform="translate(1216.0,4011.2)"><rect x="0" y="-223.7" width="75.2" height="223.7" fill="url(#hatchc)" stroke="#ff0000" stroke-width="4.6"/></g>
<g transform="translate(1291.2,4011.2)"><rect x="0" y="-111.9" width="75.2" height="111.9" fill="url(#hatchc)" stroke="#ff0000" stroke-width="4.6"/></g>
<g transform="translate(1441.6,4011.2)"><rect x="0" y="-67.1" width="75.2" height="67.1" fill="url(#hatchc)" stroke="#ff0000" stroke-width="4.6"/></g>
<polyline points="238.4,4000.8 242.8,4000.1 247.1,3999.4 251.5,3998.7 255.9,3997.9 260.3,3997.1 264.6,3996.2 269.0,3995.3 273.4,3994.3 277.7,3993.3 282.1,3992.2 286.5,3991.1 290.9,3990.0 295.2,3988.7 299.6,3987.4 304.0,3986.1 308.3,3984.6 312.7,3983.2 317.1,3981.6 321.5,3980.0 325.8,3978.2 330.2,3976.4 334.6,3974.6 338.9,3972.6 343.3,3970.6 347.7,3968.4 352.1,3966.2 356.4,3963.9 360.8,3961.5 365.2,3958.9 369.5,3956.3 373.9,3953.6 378.3,3950.7 382.7,3947.8 387.0,3944.7 391.4,3941.5 395.8,3938.2 400.2,3934.8 404.5,3931.2 408.9,3927.5 413.3,3923.7 417.6,3919.7 422.0,3915.6 426.4,3911.4 430.8,3907.0 435.1,3902.4 439.5,3897.8 443.9,3892.9 448.2,3887.9 452.6,3882.8 457.0,3877.5 461.4,3872.0 465.7,3866.4 470.1,3860.6 474.5,3854.7 478.8,3848.6 483.2,3842.3 487.6,3835.9 492.0,3829.3 496.3,3822.5 500.7,3815.6 505.1,3808.5 509.4,3801.2 513.8,3793.7 518.2,3786.1 522.6,3778.4 526.9,3770.4 531.3,3762.3 535.7,3754.0 540.0,3745.6 544.4,3737.0 548.8,3728.3 553.2,3719.4 557.5,3710.4 561.9,3701.2 566.3,3691.8 570.6,3682.4 575.0,3672.8 579.4,3663.0 583.8,3653.2 588.1,3643.2 592.5,3633.1 596.9,3622.9 601.2,3612.6 605.6,3602.2 610.0,3591.7 614.4,3581.1 618.7,3570.4 623.1,3559.7 627.5,3548.9 631.8,3538.1 636.2,3527.2 640.6,3516.3 645.0,3505.3 649.3,3494.3 653.7,3483.3 658.1,3472.3 662.4,3461.4 666.8,3450.4 671.2,3439.5 675.6,3428.6 679.9,3417.7 684.3,3406.9 688.7,3396.2 693.0,3385.6 697.4,3375.0 701.8,3364.6 706.2,3354.3 710.5,3344.0 714.9,3334.0 719.3,3324.0 723.7,3314.2 728.0,3304.6 732.4,3295.2 736.8,3285.9 741.1,3276.9 745.5,3268.0 749.9,3259.4 754.3,3251.0 758.6,3242.8 763.0,3234.9 767.4,3227.2 771.7,3219.8 776.1,3212.7 780.5,3205.9 784.9,3199.3 789.2,3193.1 793.6,3187.1 798.0,3181.5 802.3,3176.2 806.7,3171.2 811.1,3166.6 815.5,3162.3 819.8,3158.3 824.2,3154.7 828.6,3151.4 832.9,3148.6 837.3,3146.0 841.7,3143.9 846.1,3142.1 850.4,3140.6 854.8,3139.6 859.2,3138.9 863.5,3138.6 867.9,3138.7 872.3,3139.2 876.7,3140.0 881.0,3141.2 885.4,3142.8 889.8,3144.7 894.1,3147.0 898.5,3149.7 902.9,3152.8 907.3,3156.2 911.6,3159.9 916.0,3164.0 920.4,3168.5 924.7,3173.3 929.1,3178.4 933.5,3183.8 937.9,3189.6 942.2,3195.6 946.6,3202.0 951.0,3208.7 955.3,3215.7 959.7,3222.9 964.1,3230.4 968.5,3238.2 972.8,3246.2 977.2,3254.5 981.6,3263.0 985.9,3271.7 990.3,3280.6 994.7,3289.8 999.1,3299.1 1003.4,3308.6 1007.8,3318.3 1012.2,3328.2 1016.5,3338.2 1020.9,3348.3 1025.3,3358.6 1029.7,3368.9 1034.0,3379.4 1038.4,3390.0 1042.8,3400.7 1047.2,3411.4 1051.5,3422.3 1055.9,3433.1 1060.3,3444.0 1064.6,3455.0 1069.0,3466.0 1073.4,3476.9 1077.8,3487.9 1082.1,3498.9 1086.5,3509.9 1090.9,3520.8 1095.2,3531.7 1099.6,3542.6 1104.0,3553.4 1108.4,3564.2 1112.7,3574.9 1117.1,3585.5 1121.5,3596.1 1125.8,3606.5 1130.2,3616.9 1134.6,3627.2 1139.0,3637.3 1143.3,3647.4 1147.7,3657.3 1152.1,3667.1 1156.4,3676.8 1160.8,3686.3 1165.2,3695.8 1169.6,3705.0 1173.9,3714.2 1178.3,3723.1 1182.7,3732.0 1187.0,3740.6 1191.4,3749.2 1195.8,3757.5 1200.2,3765.7 1204.5,3773.7 1208.9,3781.6 1213.3,3789.3 1217.6,3796.9 1222.0,3804.2 1226.4,3811.4 1230.8,3818.5 1235.1,3825.4 1239.5,3832.1 1243.9,3838.6 1248.2,3845.0 1252.6,3851.2 1257.0,3857.2 1261.4,3863.1 1265.7,3868.8 1270.1,3874.3 1274.5,3879.7 1278.8,3885.0 1283.2,3890.0 1287.6,3895.0 1292.0,3899.7 1296.3,3904.3 1300.7,3908.8 1305.1,3913.1 1309.4,3917.3 1313.8,3921.4 1318.2,3925.3 1322.6,3929.1 1326.9,3932.7 1331.3,3936.2 1335.7,3939.6 1340.0,3942.9 1344.4,3946.0 1348.8,3949.0 1353.2,3951.9 1357.5,3954.7 1361.9,3957.4 1366.3,3960.0 1370.7,3962.5 1375.0,3964.9 1379.4,3967.2 1383.8,3969.3 1388.1,3971.4 1392.5,3973.4 1396.9,3975.4 1401.3,3977.2 1405.6,3979.0 1410.0,3980.6 1414.4,3982.3 1418.7,3983.8 1423.1,3985.2 1427.5,3986.6 1431.9,3988.0 1436.2,3989.2 1440.6,3990.4 1445.0,3991.6 1449.3,3992.7 1453.7,3993.7 1458.1,3994.7 1462.5,3995.7 1466.8,3996.6 1471.2,3997.4 1475.6,3998.2 1479.9,3999.0 1484.3,3999.7 1488.7,4000.4 1493.1,4001.0 1497.4,4001.6 1501.8,4002.2 1506.2,4002.8 1510.5,4003.3 1514.9,4003.8 1519.3,4004.2 1523.7,4004.7 1528.0,4005.1 1532.4,4005.5 1536.8,4005.8 1541.1,4006.2 1545.5,4006.5 1549.9,4006.8" fill="none" stroke="#0000ff" stroke-width="5" stroke-linejoin="round"/>
<svg x="1128" y="2905" width="602" height="602" viewBox="0 0 1095 1095" preserveAspectRatio="none" overflow="hidden">
<defs><filter id="blc" x="-5%" y="-5%" width="110%" height="110%"><feGaussianBlur stdDeviation="4"/></filter></defs>
<rect width="1095" height="1095" fill="#cecece"/>
<g filter="url(#blc)">
<polygon points="300,300 380,220 450,130 520,100 600,60 680,70 760,80 860,60 900,120 950,170 1000,220 1060,290 1095,320 1095,560 1060,600 1000,620 920,640 870,680 830,730 790,720 730,700 700,720 650,790 640,850 600,880 550,910 480,930 420,900 370,880 340,820 360,760 420,720 440,680 430,640 460,600 420,560 380,560 330,560 300,500 260,420 300,380" fill="rgb(130,130,130)"/>
<polygon points="0,130 60,120 130,100 200,20 280,20 330,80 300,130 240,170 200,200 180,260 220,300 210,350 150,380 100,340 60,330 40,360 0,350" fill="rgb(165,165,165)"/>
<polygon points="0,380 50,340 120,380 200,420 260,470 330,540 300,600 250,660 200,700 160,760 130,820 80,860 40,900 0,920" fill="rgb(165,165,165)"/>
<polygon points="840,830 900,820 960,840 1040,800 1095,780 1095,960 1050,950 1000,930 950,920 900,900 850,880" fill="rgb(170,170,170)"/>
<polygon points="800,1020 900,990 1000,1000 1095,1040 1095,1095 790,1095" fill="rgb(175,175,175)"/>
<polygon points="880,0 1095,0 1095,60 1040,100 1000,120 950,110 900,60" fill="rgb(175,175,175)"/>
<circle cx="120" cy="650" r="50" fill="rgb(142,142,142)"/>
<circle cx="80" cy="780" r="45" fill="rgb(142,142,142)"/>
<circle cx="180" cy="560" r="45" fill="rgb(138,138,138)"/>
<circle cx="360" cy="480" r="35" fill="rgb(128,128,128)"/>
<circle cx="1040" cy="140" r="15" fill="rgb(128,128,128)"/>
<circle cx="1060" cy="190" r="12" fill="rgb(128,128,128)"/>
<circle cx="520" cy="880" r="35" fill="rgb(124,124,124)"/>
<circle cx="380" cy="330" r="40" fill="rgb(124,124,124)"/>
<circle cx="150" cy="300" r="25" fill="rgb(119,119,119)"/>
<circle cx="200" cy="310" r="20" fill="rgb(119,119,119)"/>
<circle cx="230" cy="30" r="20" fill="rgb(119,119,119)"/>
<circle cx="290" cy="70" r="20" fill="rgb(119,119,119)"/>
<circle cx="920" cy="1045" r="25" fill="rgb(119,119,119)"/>
<circle cx="580" cy="780" r="45" fill="rgb(119,119,119)"/>
<circle cx="500" cy="480" r="40" fill="rgb(119,119,119)"/>
<circle cx="950" cy="180" r="30" fill="rgb(119,119,119)"/>
<circle cx="560" cy="140" r="30" fill="rgb(119,119,119)"/>
<circle cx="1000" cy="60" r="18" fill="rgb(119,119,119)"/>
<circle cx="960" cy="30" r="15" fill="rgb(119,119,119)"/>
<circle cx="520" cy="250" r="45" fill="rgb(115,115,115)"/>
<circle cx="540" cy="700" r="50" fill="rgb(115,115,115)"/>
<circle cx="480" cy="800" r="45" fill="rgb(115,115,115)"/>
<circle cx="420" cy="420" r="45" fill="rgb(115,115,115)"/>
<circle cx="660" cy="120" r="30" fill="rgb(115,115,115)"/>
<circle cx="480" cy="330" r="40" fill="rgb(115,115,115)"/>
<circle cx="995" cy="565" r="38" fill="rgb(110,110,110)"/>
<circle cx="100" cy="150" r="20" fill="rgb(110,110,110)"/>
<circle cx="970" cy="880" r="25" fill="rgb(110,110,110)"/>
<circle cx="920" cy="885" r="18" fill="rgb(110,110,110)"/>
<circle cx="1045" cy="920" r="20" fill="rgb(110,110,110)"/>
<circle cx="1000" cy="910" r="15" fill="rgb(110,110,110)"/>
<circle cx="600" cy="220" r="35" fill="rgb(110,110,110)"/>
<circle cx="700" cy="200" r="40" fill="rgb(110,110,110)"/>
<circle cx="680" cy="420" r="40" fill="rgb(110,110,110)"/>
<circle cx="700" cy="610" r="45" fill="rgb(110,110,110)"/>
<circle cx="850" cy="640" r="35" fill="rgb(110,110,110)"/>
<circle cx="560" cy="300" r="50" fill="rgb(110,110,110)"/>
<circle cx="200" cy="500" r="35" fill="rgb(105,105,105)"/>
<circle cx="470" cy="190" r="30" fill="rgb(105,105,105)"/>
<circle cx="760" cy="260" r="40" fill="rgb(105,105,105)"/>
<circle cx="760" cy="380" r="35" fill="rgb(105,105,105)"/>
<circle cx="760" cy="520" r="45" fill="rgb(105,105,105)"/>
<circle cx="1000" cy="450" r="35" fill="rgb(105,105,105)"/>
<circle cx="620" cy="420" r="45" fill="rgb(105,105,105)"/>
<circle cx="912" cy="283" r="48" fill="rgb(101,101,101)"/>
<circle cx="40" cy="180" r="30" fill="rgb(101,101,101)"/>
<circle cx="1050" cy="850" r="25" fill="rgb(101,101,101)"/>
<circle cx="820" cy="450" r="40" fill="rgb(101,101,101)"/>
<circle cx="840" cy="560" r="40" fill="rgb(101,101,101)"/>
<circle cx="800" cy="700" r="25" fill="rgb(101,101,101)"/>
<circle cx="700" cy="330" r="35" fill="rgb(101,101,101)"/>
<circle cx="1020" cy="350" r="40" fill="rgb(96,96,96)"/>
<circle cx="650" cy="700" r="30" fill="rgb(96,96,96)"/>
<circle cx="70" cy="230" r="25" fill="rgb(92,92,92)"/>
<circle cx="960" cy="380" r="35" fill="rgb(92,92,92)"/>
<circle cx="750" cy="760" r="25" fill="rgb(92,92,92)"/>
<circle cx="600" cy="560" r="55" fill="rgb(87,87,87)"/>
<circle cx="640" cy="320" r="40" fill="rgb(87,87,87)"/>
<circle cx="900" cy="410" r="40" fill="rgb(78,78,78)"/>
<circle cx="920" cy="490" r="40" fill="rgb(73,73,73)"/>
<circle cx="280" cy="505" r="55" fill="rgb(69,69,69)"/>
<circle cx="560" cy="400" r="20" fill="rgb(64,64,64)"/>
<circle cx="808" cy="135" r="48" fill="rgb(59,59,59)"/>
<circle cx="1090" cy="460" r="38" fill="rgb(55,55,55)"/>
<circle cx="415" cy="815" r="80" fill="rgb(41,41,41)"/>
<circle cx="620" cy="565" r="40" fill="rgb(36,36,36)"/>
</g>
<filter id="nzc" x="0" y="0" width="100%" height="100%" color-interpolation-filters="sRGB"><feTurbulence type="fractalNoise" baseFrequency="0.2" numOctaves="2" seed="99"/><feColorMatrix type="matrix" values="0.33 0.33 0.33 0 0 0.33 0.33 0.33 0 0 0.33 0.33 0.33 0 0 0 0 0 0 1"/><feComponentTransfer><feFuncR type="linear" slope="2.0" intercept="-0.5"/><feFuncG type="linear" slope="2.0" intercept="-0.5"/><feFuncB type="linear" slope="2.0" intercept="-0.5"/></feComponentTransfer></filter>
<rect width="1095" height="1095" filter="url(#nzc)" style="mix-blend-mode:overlay" opacity="0.45"/>

<rect x="35" y="1049" width="221" height="11" fill="#000"/>
<text x="36" y="1033" style="font-family:'Liberation Mono',monospace;font-weight:normal;font-size:40px" fill="#111">100 nm</text>
</svg>
<rect x="238.4" y="2892.5" width="1504.0" height="1118.7" fill="none" stroke="#000" stroke-width="8.6"/>
<path d="M238.4,4011.2V4026.7M313.6,4011.2V4018.7M388.8,4011.2V4026.7M464.0,4011.2V4018.7M539.2,4011.2V4026.7M614.4,4011.2V4018.7M689.6,4011.2V4026.7M764.8,4011.2V4018.7M840.0,4011.2V4026.7M915.2,4011.2V4018.7M990.4,4011.2V4026.7M1065.6,4011.2V4018.7M1140.8,4011.2V4026.7M1216.0,4011.2V4018.7M1291.2,4011.2V4026.7M1366.4,4011.2V4018.7M1441.6,4011.2V4026.7M1516.8,4011.2V4018.7M1592.0,4011.2V4026.7M1667.2,4011.2V4018.7M1742.4,4011.2V4026.7M238.4,4011.2H221.9M238.4,3955.3H230.9M238.4,3899.3H221.9M238.4,3843.4H230.9M238.4,3787.5H221.9M238.4,3731.5H230.9M238.4,3675.6H221.9M238.4,3619.7H230.9M238.4,3563.7H221.9M238.4,3507.8H230.9M238.4,3451.8H221.9M238.4,3395.9H230.9M238.4,3340.0H221.9M238.4,3284.0H230.9M238.4,3228.1H221.9M238.4,3172.2H230.9M238.4,3116.2H221.9M238.4,3060.3H230.9M238.4,3004.4H221.9M238.4,2948.4H230.9M238.4,2892.5H221.9" stroke="#000" stroke-width="8.6" fill="none"/>
<text x="238.4" y="4081.7" text-anchor="middle" class="t">0</text>
<text x="388.8" y="4081.7" text-anchor="middle" class="t">2</text>
<text x="539.2" y="4081.7" text-anchor="middle" class="t">4</text>
<text x="689.6" y="4081.7" text-anchor="middle" class="t">6</text>
<text x="840.0" y="4081.7" text-anchor="middle" class="t">8</text>
<text x="990.4" y="4081.7" text-anchor="middle" class="t">10</text>
<text x="1140.8" y="4081.7" text-anchor="middle" class="t">12</text>
<text x="1291.2" y="4081.7" text-anchor="middle" class="t">14</text>
<text x="1441.6" y="4081.7" text-anchor="middle" class="t">16</text>
<text x="1592.0" y="4081.7" text-anchor="middle" class="t">18</text>
<text x="1742.4" y="4081.7" text-anchor="middle" class="t">20</text>
<text x="208.9" y="4026.2" text-anchor="end" class="t">0</text>
<text x="208.9" y="3914.3" text-anchor="end" class="t">5</text>
<text x="208.9" y="3802.5" text-anchor="end" class="t">10</text>
<text x="208.9" y="3690.6" text-anchor="end" class="t">15</text>
<text x="208.9" y="3578.7" text-anchor="end" class="t">20</text>
<text x="208.9" y="3466.8" text-anchor="end" class="t">25</text>
<text x="208.9" y="3355.0" text-anchor="end" class="t">30</text>
<text x="208.9" y="3243.1" text-anchor="end" class="t">35</text>
<text x="208.9" y="3131.2" text-anchor="end" class="t">40</text>
<text x="208.9" y="3019.4" text-anchor="end" class="t">45</text>
<text x="208.9" y="2907.5" text-anchor="end" class="t">50</text>
<text x="256" y="166" font-size="76" letter-spacing="2.2"><tspan style="font-weight:normal">(</tspan>a<tspan style="font-weight:normal">)</tspan></text>
<text x="382" y="167.5" font-size="55" letter-spacing="1.1">Ablation time = 5 min</text>
<text x="284" y="272" font-size="48" letter-spacing="0.55">TiO<tspan font-size="34" dy="12" style="font-weight:normal">2</tspan><tspan dy="-12"> Conc. = 1.9 mg/L</tspan></text>
<text x="1219" y="826.5" font-size="55" letter-spacing="0.95">d<tspan font-size="38" dy="14">average</tspan><tspan dy="-14"> = 19.11 nm</tspan></text>
<text transform="translate(93,827.4) rotate(-90)" x="0" y="0" font-size="55" letter-spacing="0.78">TiO<tspan font-size="47" dy="16" style="font-weight:normal">2</tspan><tspan dy="-16"> NPs counts</tspan></text>
<text x="719" y="1322.9" font-size="55" letter-spacing="0.95">TiO<tspan font-size="38" dy="16" style="font-weight:normal">2</tspan><tspan dy="-16"> NPs size (nm)</tspan></text>
<text x="228" y="1541.8" font-size="76" letter-spacing="2.2"><tspan style="font-weight:normal">(</tspan>b<tspan style="font-weight:normal">)</tspan></text>
<text x="356" y="1541.8" font-size="55" letter-spacing="1.1">Ablation time = 10 min</text>
<text x="248" y="1626.5" font-size="48" letter-spacing="0.3">TiO<tspan font-size="34" dy="12" style="font-weight:normal">2</tspan><tspan dy="-12"> Conc. = 2.9 mg/L</tspan></text>
<text x="1173" y="2182.4" font-size="55" letter-spacing="0.5">d<tspan font-size="38" dy="14">average</tspan><tspan dy="-14"> = 11.96 nm</tspan></text>
<text transform="translate(67.6,2219.4) rotate(-90)" x="0" y="0" font-size="55" letter-spacing="0.78">TiO<tspan font-size="47" dy="16" style="font-weight:normal">2</tspan><tspan dy="-16"> NPs counts</tspan></text>
<text x="697" y="2708.8" font-size="55" letter-spacing="0.95">TiO<tspan font-size="38" dy="16" style="font-weight:normal">2</tspan><tspan dy="-16"> NPs size (nm)</tspan></text>
<text x="268" y="2986.2" font-size="76" letter-spacing="2.2"><tspan style="font-weight:normal">(</tspan>c<tspan style="font-weight:normal">)</tspan></text>
<text x="395" y="2986.2" font-size="55" letter-spacing="1.1">Ablation time = 15 min</text>
<text x="284" y="3082.6" font-size="48" letter-spacing="0.3">TiO<tspan font-size="34" dy="12" style="font-weight:normal">2</tspan><tspan dy="-12"> Conc. = 4.35 mg/L</tspan></text>
<text x="1256" y="3681.8" font-size="55" letter-spacing="0.95">d<tspan font-size="38" dy="14">average</tspan><tspan dy="-14"> = 8.33 nm</tspan></text>
<text transform="translate(109.4,3673) rotate(-90)" x="0" y="0" font-size="55" letter-spacing="0.78">TiO<tspan font-size="47" dy="16" style="font-weight:normal">2</tspan><tspan dy="-16"> NPs counts</tspan></text>
<text x="739" y="4162" font-size="55" letter-spacing="0.95">TiO<tspan font-size="38" dy="16" style="font-weight:normal">2</tspan><tspan dy="-16"> NPs size (nm)</tspan></text>
</svg>
</body></html>
